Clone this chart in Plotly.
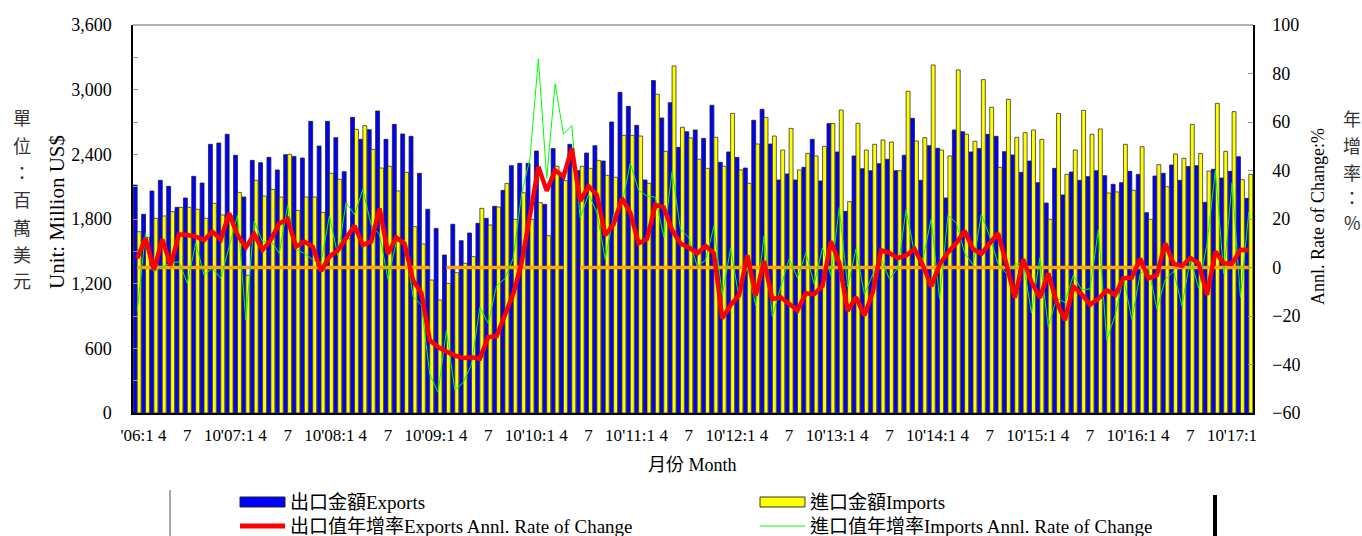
import plotly.graph_objects as go

# ---------------- data ----------------
years = ["'06", "'07", "'08", "'09", "'10", "'11", "'12", "'13", "'14", "'15", "'16", "'17"]
month_nums = [1, 4, 7, 10]

exports = [
    2115, 1843, 2060, 2159, 2103, 1908, 1995, 2196, 2134, 2493, 2505, 2586,
    2391, 2004, 2344, 2323, 2372, 2255, 2397, 2381, 2366, 2706, 2477, 2706,
    2555, 2239, 2743, 2539, 2629, 2802, 2539, 2678, 2589, 2567, 2224, 1890,
    1713, 1466, 1751, 1599, 1670, 1760, 1806, 1918, 2066, 2295, 2317, 2317,
    2431, 1936, 2453, 2200, 2493, 2248, 2412, 2480, 2338, 2700, 2975, 2845,
    2669, 2162, 3084, 2737, 2879, 2465, 2610, 2626, 2548, 2855, 2326, 2422,
    2372, 2273, 2716, 2818, 2496, 2162, 2218, 2162, 2279, 2539, 2153, 2685,
    2422, 1871, 2385, 2267, 2248, 2313, 2354, 2248, 2391, 2734, 2159, 2480,
    2456, 1995, 2626, 2610, 2422, 2453, 2586, 2567, 2425, 2394, 2233, 2338,
    2137, 1948, 2270, 2023, 2236, 2159, 2193, 2248, 2202, 2122, 2137, 2242,
    2214, 1859, 2199, 2224, 2301, 2159, 2286, 2295, 1955, 2261, 2180, 2242,
    2378, 1992,
]

imports = [
    1682, 1630, 1806, 1828, 1868, 1908, 1908, 1890, 1806, 1945, 1837, 1830,
    2047, 1277, 2159, 2013, 2075, 2004, 2400, 1880, 2004, 2004, 1862, 2224,
    2168, 1620, 2632, 2666, 2446, 2273, 2289, 2060, 2233, 1729, 1568, 1234,
    1048, 1203, 1302, 1389, 1451, 1899, 1744, 1911, 2131, 1797, 2044, 1797,
    1952, 1645, 2289, 2156, 2289, 2289, 2270, 2344, 2205, 2187, 2576, 2576,
    2570, 2131, 2957, 2428, 3220, 2651, 2552, 2354, 2270, 2558, 2289, 2780,
    2255, 2131, 2496, 2743, 2570, 2440, 2641, 2255, 2409, 2385, 2474, 2685,
    2811, 1961, 2688, 2440, 2493, 2533, 2514, 2248, 2985, 2524, 2555, 3229,
    2440, 2385, 3183, 2586, 2521, 3093, 2836, 2279, 2910, 2558, 2601, 2626,
    2539, 1797, 2780, 2214, 2440, 2808, 2586, 2635, 2041, 2051, 2493, 2066,
    2471, 1797, 2304, 2100, 2403, 2363, 2678, 2409, 2245, 2873, 2428, 2796,
    2165, 2214,
]

export_growth = [
    3.8, 12.0, -1.0, 11.6, 1.0, 13.7, 13.4, 12.7, 11.3, 14.8, 11.6, 22.3,
    13.4, 8.3, 13.7, 7.2, 11.5, 18.2, 19.9, 8.6, 10.7, 8.6, -1.5, 4.5,
    7.0, 12.0, 17.2, 9.3, 10.7, 24.4, 5.7, 12.4, 9.8, -5.2, -10.5, -30.0,
    -32.8, -34.6, -36.3, -37.3, -37.0, -37.6, -28.7, -28.3, -19.5, -10.8, 2.0, 21.0,
    41.5, 31.6, 40.1, 37.5, 49.1, 27.4, 33.5, 30.0, 13.3, 17.9, 28.5, 22.5,
    9.9, 11.8, 25.8, 24.8, 15.5, 9.9, 8.3, 5.8, 8.9, 5.9, -21.0, -15.5,
    -11.5, 5.1, -11.6, 2.7, -13.0, -12.3, -14.9, -17.6, -10.6, -11.0, -7.6, 10.8,
    1.9, -17.9, -12.2, -19.8, -10.3, 7.1, 6.0, 3.9, 5.0, 7.6, 1.0, -7.8,
    1.2, 6.2, 10.1, 15.1, 7.6, 5.6, 10.0, 14.1, 1.5, -12.5, 3.4, -6.0,
    -12.5, -2.4, -14.2, -21.7, -7.8, -11.0, -15.3, -12.9, -9.4, -11.3, -4.4, -4.2,
    3.7, -4.5, -3.1, 10.0, 1.6, 0.6, 4.0, 1.7, -11.3, 6.6, 1.7, 1.7,
    7.3, 7.2,
]

import_growth = [
    -18.0, 14.0, -1.7, 0.3, 1.7, 2.4, -6.5, 10.0, -3.1, -0.3, -4.5, 8.6,
    21.5, -21.6, 19.2, 10.5, 11.0, 5.8, 25.6, 7.5, 5.8, 3.2, 2.0, 21.3,
    5.0, 26.8, 21.8, 32.2, 17.5, 13.6, -4.8, 10.5, 11.2, -12.0, -15.5, -44.0,
    -51.5, -26.0, -50.5, -47.5, -40.0, -16.4, -23.0, -7.5, -4.6, 4.0, 30.5, 45.0,
    86.0, 36.8, 75.8, 55.0, 58.5, 20.5, 30.2, 22.8, 3.4, 21.8, 26.0, 43.0,
    31.8, 29.5, 29.0, 12.6, 39.5, 15.8, 12.4, 0.5, 3.0, 17.0, -11.5, 7.9,
    -12.3, 0.5, -15.6, 13.0, -20.2, -8.0, 3.5, -4.2, 6.1, -6.8, 8.1, -3.2,
    24.7, -8.0, 7.7, -11.0, -3.0, 3.8, -4.8, -0.3, 23.9, 5.8, 3.3, 20.0,
    -13.0, 21.6, 18.4, 6.0, 1.1, 22.0, 12.8, 1.5, -2.5, 1.3, 1.8, -18.7,
    4.0, -24.5, -12.7, -14.4, -3.2, -9.2, -8.8, 15.6, -29.9, -19.8, -4.2, -21.3,
    -2.7, 0.0, -17.0, -5.0, -1.5, -15.8, 3.6, -8.6, 10.0, 40.0, -2.6, 35.0,
    -12.4, 23.0,
]

# zero reference line (with the two gaps seen in the original)
zero_line = [0.0] * 134
zero_line[36] = None
zero_line[52] = None

left_unit_chars = ["單", "位", "：", "百", "萬", "美", "元"]
right_unit_chars = ["年", "增", "率", "：", "%"]

months = list(range(len(exports)))

tickvals = []
ticktext = []
for yi, yl in enumerate(years):
    for mn in month_nums:
        idx = yi * 12 + (mn - 1)
        if idx < len(months):
            tickvals.append(idx)
            ticktext.append(f"{yl}:1" if mn == 1 else str(mn))

# ---------------- figure ----------------
W, H = 1362, 536
L, R, T, B = 133, 109, 25, 123
PW, PH = W - L - R, H - T - B


def px_x(px):
    return (px - L) / PW


def px_y(py):
    return (H - B - py) / PH


SERIF = "Liberation Serif, Times New Roman, serif"
CJK = "Liberation Serif, Noto Sans CJK TC, serif"

fig = go.Figure()
fig.add_trace(go.Bar(x=months, y=exports, name="出口金額Exports",
                     marker=dict(color="#0000FF", line=dict(color="#222222", width=0.8)),
                     showlegend=False))
fig.add_trace(go.Bar(x=months, y=imports, name="進口金額Imports",
                     marker=dict(color="#FFFF00", line=dict(color="#333333", width=0.8)),
                     showlegend=False))
fig.add_trace(go.Scatter(x=months, y=zero_line, mode="lines", yaxis="y2",
                         line=dict(color="#FFA500", width=3.5), showlegend=False,
                         connectgaps=False, hoverinfo="skip"))
fig.add_trace(go.Scatter(x=months, y=import_growth, mode="lines", yaxis="y2",
                         name="進口值年增率Imports Annl. Rate of Change",
                         line=dict(color="#00FF00", width=1), showlegend=False))
fig.add_trace(go.Scatter(x=months, y=export_growth, mode="lines", yaxis="y2",
                         name="出口值年增率Exports Annl. Rate of Change",
                         line=dict(color="#FF0000", width=4.5), showlegend=False))

fig.update_layout(
    width=W, height=H,
    margin=dict(l=L, r=R, t=T, b=B),
    paper_bgcolor="white", plot_bgcolor="white",
    barmode="group", bargap=0.06, bargroupgap=0.0,
    font=dict(family=SERIF, size=17, color="black"),
    xaxis=dict(range=[-0.5, len(months) - 0.5], tickmode="array",
               tickvals=tickvals, ticktext=ticktext, tickangle=0,
               showline=True, linecolor="black", linewidth=1.5,
               ticks="", showgrid=False, zeroline=False,
               tickfont=dict(family=SERIF, size=17), ticklabelstandoff=6),
    yaxis=dict(range=[0, 3600], tickmode="array",
               tickvals=[0, 600, 1200, 1800, 2400, 3000, 3600],
               tickformat=",", ticks="inside", ticklen=5, tickcolor="#999999",
               minor=dict(tickvals=[300, 900, 1500, 2100, 2700, 3300],
                          ticks="inside", ticklen=5, tickcolor="#999999"),
               showline=True, linecolor="black", linewidth=1.5,
               showgrid=False, zeroline=False,
               tickfont=dict(family=SERIF, size=18), ticklabelstandoff=16),
    yaxis2=dict(range=[-60, 100], overlaying="y", side="right",
                tickmode="array", tickvals=[-60, -40, -20, 0, 20, 40, 60, 80, 100],
                ticks="inside", ticklen=5, tickcolor="#999999",
                showline=True, linecolor="black", linewidth=1.5,
                showgrid=False, zeroline=False,
                tickfont=dict(family=SERIF, size=18), ticklabelstandoff=14),
)

shapes = [
    dict(type="line", xref="paper", yref="paper", x0=0, x1=1, y0=1, y1=1,
         line=dict(color="#999999", width=1.5)),
    # legend frame pieces
    dict(type="line", xref="paper", yref="paper", x0=px_x(170), x1=px_x(170),
         y0=px_y(490), y1=px_y(536), line=dict(color="#555555", width=1)),
    dict(type="line", xref="paper", yref="paper", x0=px_x(1215), x1=px_x(1215),
         y0=px_y(495), y1=px_y(536), line=dict(color="black", width=4)),
    # legend symbols
    dict(type="rect", xref="paper", yref="paper", x0=px_x(240), x1=px_x(285),
         y0=px_y(507), y1=px_y(497), fillcolor="#0000FF", line=dict(color="#222222", width=1)),
    dict(type="rect", xref="paper", yref="paper", x0=px_x(760), x1=px_x(805),
         y0=px_y(507), y1=px_y(497), fillcolor="#FFFF00", line=dict(color="#333333", width=1)),
    dict(type="line", xref="paper", yref="paper", x0=px_x(240), x1=px_x(285),
         y0=px_y(526), y1=px_y(526), line=dict(color="#FF0000", width=5)),
    dict(type="line", xref="paper", yref="paper", x0=px_x(760), x1=px_x(805),
         y0=px_y(526), y1=px_y(526), line=dict(color="#00FF00", width=1)),
]
fig.update_layout(shapes=shapes)

ann = []


def add_text(text, x, y, size=17, xanchor="center", yanchor="middle", angle=0,
             family=CJK, color="black"):
    ann.append(dict(text=text, x=px_x(x), y=px_y(y), xref="paper", yref="paper",
                    showarrow=False, xanchor=xanchor, yanchor=yanchor,
                    textangle=angle, font=dict(family=family, size=size, color=color)))


add_text("Unit: Million US$", 57, 212, size=21, angle=-90, family=SERIF)
for ch, yy in zip(left_unit_chars, [117, 145, 172, 199, 227, 254, 280]):
    add_text(ch, 22, yy, size=18, family="Noto Sans CJK TC", color="#333333")
add_text("Annl. Rate of Change:%", 1318, 217, size=18, angle=-90, family=SERIF)
for ch, yy in zip(right_unit_chars, [118, 145, 172, 197, 222]):
    add_text(ch, 1352, yy, size=18, family="Noto Sans CJK TC", color="#333333")
add_text("月份 Month", 692, 465, size=18)
add_text("出口金額Exports", 288, 502, size=19, xanchor="left")
add_text("進口金額Imports", 808, 502, size=19, xanchor="left")
add_text("出口值年增率Exports Annl. Rate of Change", 288, 526, size=19, xanchor="left")
add_text("進口值年增率Imports Annl. Rate of Change", 808, 526, size=19, xanchor="left")
fig.update_layout(annotations=ann)

fig.write_html("out.html", config={"displayModeBar": False},
               post_script="document.body.style.margin='0';document.body.style.overflow='hidden';")
